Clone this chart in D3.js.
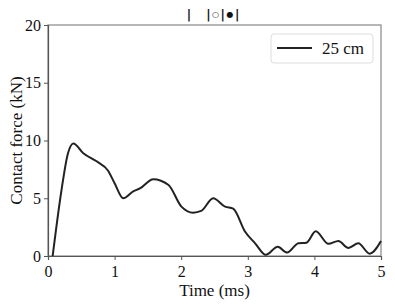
<!DOCTYPE html>
<html>
<head>
<meta charset="utf-8">
<script src="https://cdn.jsdelivr.net/npm/d3@7"></script>
<style>
  body { margin: 0; background: #fff; }
  text { font-family: "Liberation Serif", "DejaVu Serif", serif; fill: #111; }
</style>
</head>
<body>
<div id="chart"></div>
<script>
var width = 395
var height = 304

var timeMs = [0.07, 0.2, 0.3, 0.38, 0.53, 0.73, 0.9, 1.0, 1.13, 1.28, 1.38, 1.58, 1.81, 2.0, 2.18, 2.3, 2.48, 2.66, 2.78, 2.96, 3.11, 3.27, 3.45, 3.59, 3.76, 3.88, 4.02, 4.21, 4.36, 4.51, 4.66, 4.83, 5.0]
var force = [0.0, 5.6, 8.9, 9.75, 8.9, 8.2, 7.4, 6.3, 5.0, 5.6, 5.85, 6.65, 6.15, 4.3, 3.75, 3.9, 5.0, 4.27, 4.1, 2.1, 1.1, 0.1, 0.8, 0.3, 1.1, 1.15, 2.15, 1.05, 1.3, 0.7, 1.1, 0.2, 1.3]
var xTicks = [0, 1, 2, 3, 4, 5]
var yTicks = [0, 5, 10, 15, 20]
var seriesName = '25 cm'
// title pieces: bar, gap, bar, open dot, bar, filled dot, bar
var titleParts = ['|', '\u2002\u2002', '|', '\u25CB', '|', '\u25CF', '|']

var margin = { left: 48, right: 14, top: 25, bottom: 48 }

var svg = d3.select('#chart').append('svg')
    .attr('width', width)
    .attr('height', height)

var x = d3.scaleLinear().domain([0, 5]).range([margin.left, width - margin.right])
var y = d3.scaleLinear().domain([0, 20]).range([height - margin.bottom, margin.top])

// frame
svg.append('rect')
    .attr('x', x(0)).attr('y', y(20))
    .attr('width', x(5) - x(0)).attr('height', y(0) - y(20))
    .attr('fill', 'none').attr('stroke', '#888').attr('stroke-width', 1.2)

var xAxis = svg.append('g')
    .attr('transform', 'translate(0,' + y(0) + ')')
    .call(d3.axisBottom(x).tickValues(xTicks).tickFormat(d3.format('d')).tickSizeOuter(0).tickSize(4))
var yAxis = svg.append('g')
    .attr('transform', 'translate(' + x(0) + ',0)')
    .call(d3.axisLeft(y).tickValues(yTicks).tickFormat(d3.format('d')).tickSizeOuter(0).tickSize(4))

xAxis.select('.domain').attr('stroke', '#555').attr('stroke-width', 1.2)
yAxis.select('.domain').attr('stroke', '#555').attr('stroke-width', 1.2)
svg.selectAll('.tick line').attr('stroke', '#555')
svg.selectAll('.tick text')
    .style('font-family', '"Liberation Serif", serif')
    .style('font-size', '16px')
    .attr('fill', '#111')
xAxis.selectAll('.tick text').attr('dy', '0.9em')

svg.append('text')
    .attr('x', (x(0) + x(5)) / 2)
    .attr('y', 296)
    .attr('text-anchor', 'middle')
    .style('font-size', '17px')
    .text('Time (ms)')

svg.append('text')
    .attr('transform', 'translate(22,' + ((y(0) + y(20)) / 2) + ') rotate(-90)')
    .attr('text-anchor', 'middle')
    .style('font-size', '17px')
    .text('Contact force (kN)')

function isDot(d) { return d === '\u25CB' || d === '\u25CF' }

var title = svg.append('text')
    .attr('x', 213)
    .attr('y', 19)
    .attr('text-anchor', 'middle')
    .style('font-family', '"DejaVu Sans", sans-serif')
    .style('font-size', '12px')
    .style('font-weight', 'bold')
title.selectAll('tspan').data(titleParts).enter().append('tspan')
    .style('font-size', function(d) { return isDot(d) ? '8px' : '12px' })
    .attr('dx', function(d, i) { return i === 0 ? 0 : 1.5 })
    .attr('dy', function(d, i) {
        if (isDot(d)) return -2
        return i > 0 && isDot(titleParts[i - 1]) ? 2 : 0 })
    .text(function(d) { return d })

var line = d3.line()
    .x(function(d, i) { return x(timeMs[i]) })
    .y(function(d) { return y(d) })
    .curve(d3.curveMonotoneX)

svg.append('path')
    .datum(force)
    .attr('d', line)
    .attr('fill', 'none')
    .attr('stroke', '#222')
    .attr('stroke-width', 2)

// legend
svg.append('rect')
    .attr('x', 271).attr('y', 34).attr('width', 102).attr('height', 29)
    .attr('rx', 3).attr('fill', '#fff').attr('stroke', '#ddd')
svg.append('line')
    .attr('x1', 277).attr('x2', 312).attr('y1', 48).attr('y2', 48)
    .attr('stroke', '#222').attr('stroke-width', 2)
svg.append('text')
    .attr('x', 322).attr('y', 54)
    .style('font-size', '17px')
    .text(seriesName)
</script>
</body>
</html>
